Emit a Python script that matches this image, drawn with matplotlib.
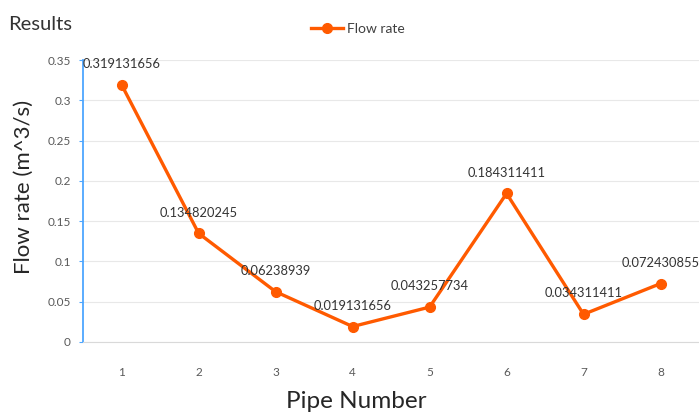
import matplotlib
matplotlib.use('Agg')
import matplotlib.pyplot as plt

plt.rcParams['font.family'] = ['Lato', 'DejaVu Sans']

pipes = [1, 2, 3, 4, 5, 6, 7, 8]
flow = [0.319131656, 0.134820245, 0.06238939, 0.019131656,
        0.043257734, 0.184311411, 0.034311411, 0.072430855]
flow_lbl = ['0.319131656', '0.134820245', '0.06238939', '0.019131656',
            '0.043257734', '0.184311411', '0.034311411', '0.072430855']
yticks = [0, 0.05, 0.1, 0.15, 0.2, 0.25, 0.3, 0.35]
ytick_lbl = ['0', '0.05', '0.1', '0.15', '0.2', '0.25', '0.3', '0.35']

fig = plt.figure(figsize=(6.99, 4.17), dpi=100)
ax = fig.add_axes([0.119, 0.18, 0.881, 0.676])

ax.plot(pipes, flow, color='#ff5a00', lw=2.4, marker='o', ms=7,
        label='Flow rate', zorder=3)
for x, y, s in zip(pipes, flow, flow_lbl):
    ax.annotate(s, (x, y), xytext=(0, 15), textcoords='offset points',
                ha='center', va='center', fontsize=9.3, color='#333333')

ax.set_xlim(0.5, 8.5)
ax.set_ylim(0, 0.35)
ax.set_xticks(pipes)
ax.set_xticklabels([str(p) for p in pipes])
ax.set_yticks(yticks)
ax.set_yticklabels(ytick_lbl)
ax.grid(axis='y', color='#e8e8e8', lw=0.8)
ax.set_axisbelow(True)

for s in ['top', 'right']:
    ax.spines[s].set_visible(False)
ax.spines['bottom'].set_color('#d9d9d9')
ax.spines['left'].set_color('#4da6ff')
ax.spines['left'].set_linewidth(1.3)
ax.tick_params(axis='x', length=0, labelsize=8.5, labelcolor='#595959', pad=18)
ax.tick_params(axis='y', length=3, color='#4da6ff', labelsize=8.5,
               labelcolor='#595959', pad=6)

ax.set_ylabel('Flow rate (m^3/s)', fontsize=16, color='#262626')
ax.yaxis.set_label_coords(-0.08, 0.55)
fig.text(356 / 699, 1 - 402 / 417, 'Pipe Number', fontsize=17.5,
         color='#262626', ha='center', va='center')

fig.text(0.011, 0.942, 'Results', fontsize=14.5, color='#333333', va='center')
fig.legend(loc='center', bbox_to_anchor=(0.512, 0.93), frameon=False,
           fontsize=10, handlelength=2.3, handletextpad=0.3,
           labelcolor='#404040')

fig.savefig('out.png', dpi=100)
